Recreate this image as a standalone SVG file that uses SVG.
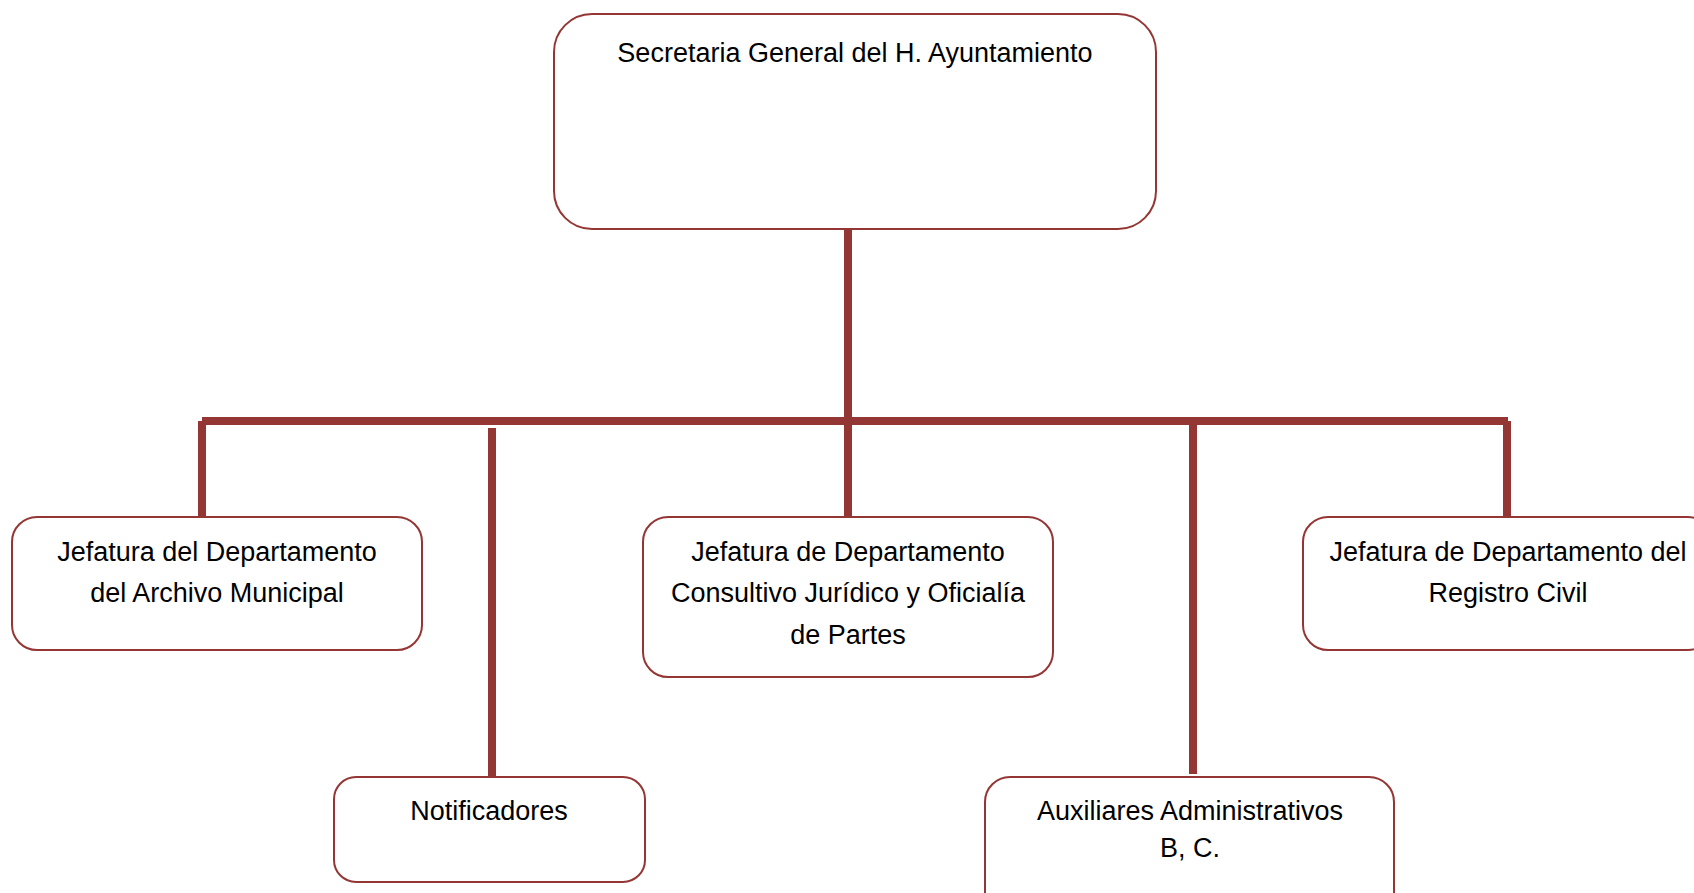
<svg xmlns="http://www.w3.org/2000/svg" width="1694" height="893" viewBox="0 0 1694 893">
<style>
.box{fill:#ffffff;stroke:#943634;stroke-width:2}
.conn{stroke:#943634;stroke-width:8;fill:none}
text{font-family:"Liberation Sans",Arial,sans-serif;font-size:27px;fill:#000;text-anchor:middle}
</style>
<rect width="1694" height="893" fill="#ffffff"/>
<g id="connectors">
<line class="conn" x1="848" y1="229" x2="848" y2="517"/>
<line class="conn" x1="202" y1="421" x2="1508" y2="421"/>
<line class="conn" x1="202" y1="421" x2="202" y2="517"/>
<line class="conn" x1="1507" y1="421" x2="1507" y2="517"/>
<line class="conn" x1="492" y1="428" x2="492" y2="777"/>
<line class="conn" x1="1193" y1="425" x2="1193" y2="774"/>
</g>
<g id="secretaria">
<rect class="box" x="554" y="14" width="602" height="215" rx="38" ry="38"/>
<text x="855" y="62">Secretaria General del H. Ayuntamiento</text>
</g>
<g id="archivo">
<rect class="box" x="12" y="517" width="410" height="133" rx="25" ry="25"/>
<text x="217" y="561">Jefatura del Departamento</text>
<text x="217" y="602">del Archivo Municipal</text>
</g>
<g id="consultivo">
<rect class="box" x="643" y="517" width="410" height="160" rx="25" ry="25"/>
<text x="848" y="561">Jefatura de Departamento</text>
<text x="848" y="602">Consultivo Jurídico y Oficialía</text>
<text x="848" y="644">de Partes</text>
</g>
<g id="registro">
<rect class="box" x="1303" y="517" width="410" height="133" rx="25" ry="25"/>
<text x="1508" y="561">Jefatura de Departamento del</text>
<text x="1508" y="602">Registro Civil</text>
</g>
<g id="notificadores">
<rect class="box" x="334" y="777" width="311" height="105" rx="22" ry="22"/>
<text x="489" y="820">Notificadores</text>
</g>
<g id="auxiliares">
<rect class="box" x="985" y="777" width="409" height="160" rx="25" ry="25"/>
<text x="1190" y="820">Auxiliares Administrativos</text>
<text x="1190" y="857">B, C.</text>
</g>
</svg>
